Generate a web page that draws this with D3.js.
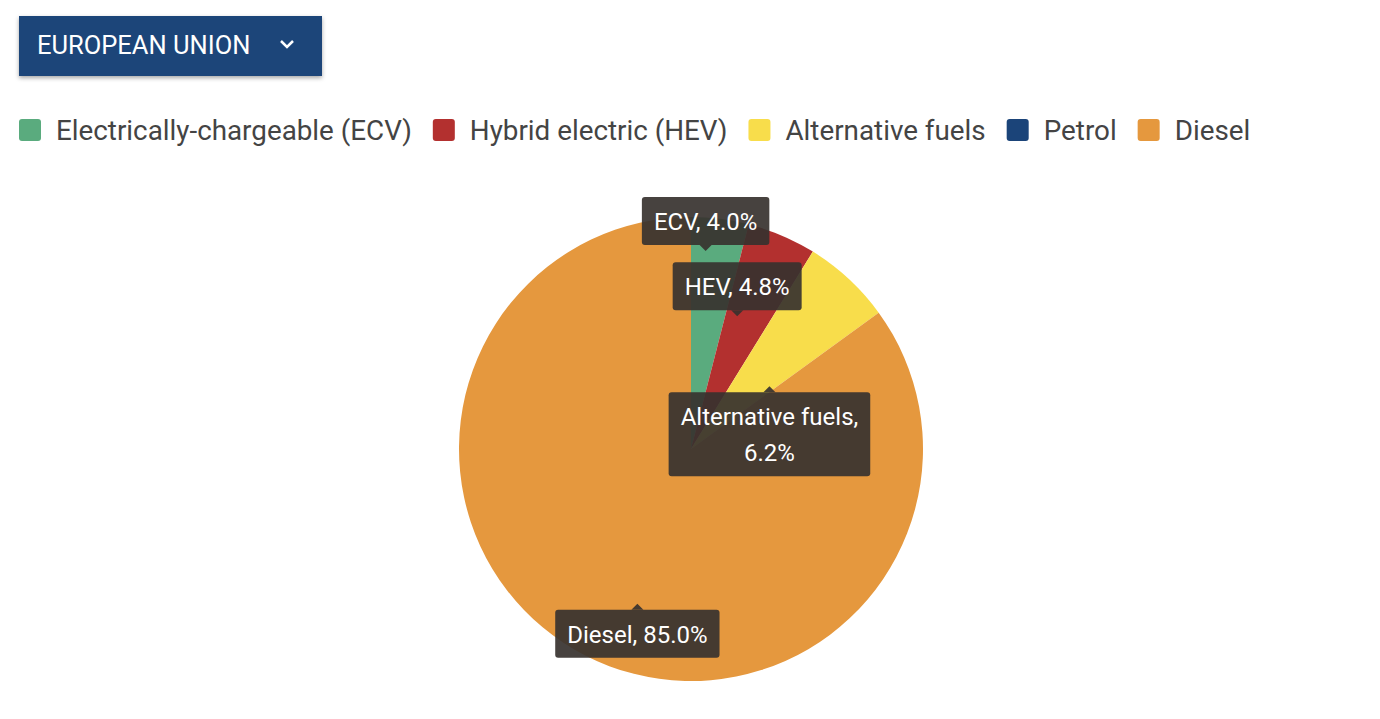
<!DOCTYPE html>
<html>
<head>
<meta charset="utf-8">
<script src="https://cdn.jsdelivr.net/npm/d3@7"></script>
<style>
	body { margin: 0; background: #fff; font-family: Roboto, sans-serif; }
	svg { display: block; }
</style>
</head>
<body>
<svg width="1380" height="719"></svg>
<script>
const categories = ['Electrically-chargeable (ECV)', 'Hybrid electric (HEV)', 'Alternative fuels', 'Petrol', 'Diesel'];
const shortNames = ['ECV', 'HEV', 'Alternative fuels', 'Petrol', 'Diesel'];
const shares = [4.0, 4.8, 6.2, 0, 85.0];
const colors = ['#5aab7e', '#b3302f', '#f8dd4b', '#1b4479', '#e5983e'];

// where each tooltip tip sits: [radius fraction, angle shift deg, above/below]
const TIP = [[0.86, -3, 'up'], [0.61, -4, 'up'], [0.43, 9, 'down'], null, [0.71, -8, 'down']];

const svg = d3.select('svg');

// dropdown button
const btn = svg.append('g').attr('transform', 'translate(19,16)');
const defs = svg.append('defs');
const f = defs.append('filter').attr('id', 'sh').attr('x', '-10%').attr('y', '-20%').attr('width', '120%').attr('height', '150%');
f.append('feDropShadow').attr('dx', 0).attr('dy', 2).attr('stdDeviation', 2).attr('flood-opacity', 0.35);
btn.append('rect').attr('width', 303).attr('height', 60).attr('fill', '#1b4479').attr('filter', 'url(#sh)');
btn.append('text').attr('x', 18).attr('y', 38).attr('fill', '#fff')
	.attr('font-size', 25.5).attr('font-weight', 400).text('EUROPEAN UNION');
btn.append('path').attr('d', 'M262,25 l6,6 l6,-6').attr('fill', 'none')
	.attr('stroke', '#fff').attr('stroke-width', 2.5);

// legend
const legend = svg.append('g').attr('transform', 'translate(19,119)');
let lx = 0;
categories.forEach((c, i) => {
	const g = legend.append('g').attr('transform', `translate(${lx},0)`);
	g.append('rect').attr('width', 22).attr('height', 22).attr('rx', 3).attr('fill', colors[i]);
	const t = g.append('text').attr('x', 37).attr('y', 21).attr('font-size', 27.8)
		.attr('fill', '#444').text(c);
	lx += 37 + t.node().getComputedTextLength() + 21;
});

// pie
const cx = 691, cy = 449, R = 232;
const pie = d3.pie().sort(null).value(d => d);
const arcs = pie(shares);
const arc = d3.arc().innerRadius(0).outerRadius(R);
const chart = svg.append('g').attr('transform', `translate(${cx},${cy})`);
chart.selectAll('path').data(arcs).enter().append('path')
	.attr('d', arc).attr('fill', (d, i) => colors[i]);

// tooltips
const tips = svg.append('g');
arcs.forEach((a, i) => {
	if (!TIP[i] || a.value === 0) return;
	const [rf, shift, dir] = TIP[i];
	const ang = (a.startAngle + a.endAngle) / 2 + shift * Math.PI / 180;
	const px = cx + Math.sin(ang) * R * rf;
	const py = cy - Math.cos(ang) * R * rf;
	const label = shortNames[i] + ', ' + a.value.toFixed(1) + '%';
	const g = tips.append('g');
	const lines = i === 2 ? [shortNames[i] + ',', a.value.toFixed(1) + '%'] : [label];
	const txt = g.append('g');
	lines.forEach((l, k) => txt.append('text').attr('text-anchor', 'middle')
		.attr('y', k * 36).attr('fill', '#fff').attr('font-size', 24).text(l));
	const w = d3.max(txt.selectAll('text').nodes(), n => n.getComputedTextLength()) + 24;
	const h = 12 + lines.length * 36;
	const bx = px - w / 2;
	const by = dir === 'up' ? py - 5 - h : py + 5;
	g.insert('rect', 'g').attr('x', bx).attr('y', by).attr('width', w).attr('height', h)
		.attr('rx', 3).attr('fill', 'rgba(55,50,47,0.92)');
	const ay = dir === 'up' ? by + h : by;
	const s = dir === 'up' ? 1 : -1;
	g.insert('path', 'g').attr('d', `M${px - 6},${ay} L${px},${ay + 6 * s} L${px + 6},${ay} Z`)
		.attr('fill', 'rgba(55,50,47,0.92)');
	txt.attr('transform', `translate(${bx + w / 2},${by + 33})`);
});
</script>
</body>
</html>
